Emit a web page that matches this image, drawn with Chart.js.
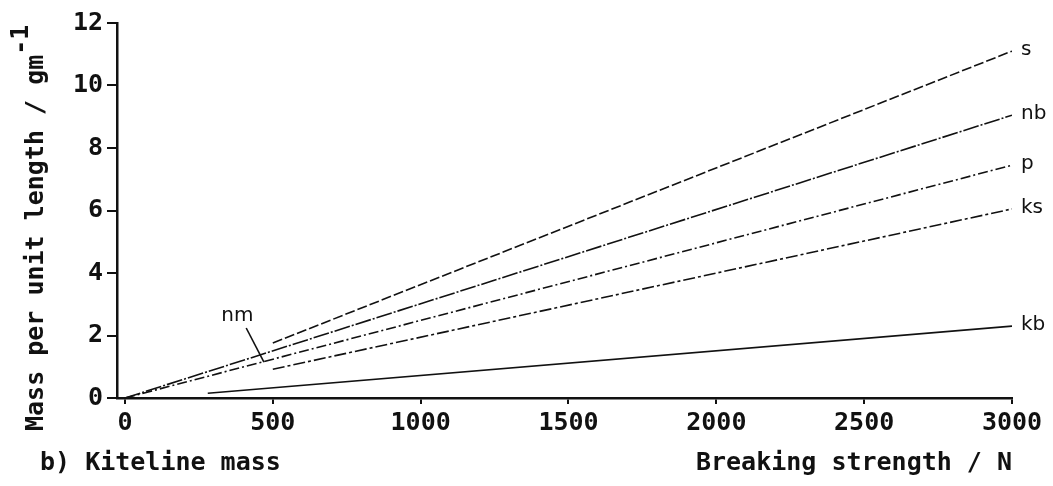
<!DOCTYPE html>
<html>
<head>
<meta charset="utf-8">
<script src="https://cdn.jsdelivr.net/npm/chart.js@4.4.1/dist/chart.umd.min.js"></script>
<style>
  html, body { margin: 0; padding: 0; background: #fff; }
</style>
</head>
<body>
<canvas id="chart" width="1053" height="486"></canvas>
<script>
// ===== Data =====
const lineNames  = ["s", "nb", "p", "ks", "kb"];
const startForce = [500, 0, 0, 500, 280];
const startMass  = [1.76, 0, 0, 0.92, 0.15];
const endForce   = [3000, 3000, 3000, 3000, 3000];
const endMass    = [11.1, 9.05, 7.45, 6.05, 2.3];

const xTicks = [0, 500, 1000, 1500, 2000, 2500, 3000];
const yTicks = [0, 2, 4, 6, 8, 10, 12];

// ===== Styles =====
const ink = "#111";
const plotFont = "'DejaVu Sans Mono', monospace";
const thinFont = "'DejaVu Sans', sans-serif";
const dashes = [[10, 3], [16, 2, 2, 2], [10, 3, 2, 3], [12, 3, 3, 3], []];

// nm marker, in data units
const nmText = { x: 380, y: 2.62 };
const nmFrom = { x: 410, y: 2.24 };
const nmTo   = { x: 470, y: 1.15 };

// ===== Extra text: series labels, nm note, y title, caption =====
const annotations = {
  id: "annotations",
  afterDraw(chart) {
    const ctx = chart.ctx;
    const xs = chart.scales.x, ys = chart.scales.y;
    ctx.save();
    ctx.fillStyle = ink;
    ctx.strokeStyle = ink;

    // labels at the right end of each line
    ctx.font = "20px " + thinFont;
    ctx.textAlign = "left";
    ctx.textBaseline = "middle";
    chart.data.datasets.forEach((ds, i) => {
      const pts = chart.getDatasetMeta(i).data;
      const last = pts[pts.length - 1];
      ctx.fillText(ds.label, last.x + 9, last.y - 1);
    });

    // nm note with pointer
    ctx.textAlign = "center";
    ctx.fillText("nm", xs.getPixelForValue(nmText.x), ys.getPixelForValue(nmText.y));
    ctx.lineWidth = 1.6;
    ctx.beginPath();
    ctx.moveTo(xs.getPixelForValue(nmFrom.x), ys.getPixelForValue(nmFrom.y));
    ctx.lineTo(xs.getPixelForValue(nmTo.x), ys.getPixelForValue(nmTo.y));
    ctx.stroke();

    // y axis title with superscript
    ctx.font = "bold 25px " + plotFont;
    ctx.translate(43, 431);
    ctx.rotate(-Math.PI / 2);
    ctx.textAlign = "left";
    ctx.textBaseline = "alphabetic";
    const main = "Mass per unit length / gm";
    ctx.fillText(main, 0, 0);
    ctx.fillText("-1", ctx.measureText(main).width, -15);
    ctx.setTransform(1, 0, 0, 1, 0, 0);

    // caption bottom left
    ctx.textBaseline = "middle";
    ctx.fillText("b) Kiteline mass", 40, 463);
    ctx.restore();
  }
};

// ===== Chart =====
new Chart(document.getElementById("chart"), {
  type: "line",
  data: {
    datasets: lineNames.map((name, i) => ({
      label: name,
      data: [
        { x: startForce[i], y: startMass[i] },
        { x: endForce[i], y: endMass[i] }
      ],
      borderColor: ink,
      borderWidth: 1.6,
      borderDash: dashes[i],
      pointRadius: 0,
      fill: false,
      tension: 0
    }))
  },
  options: {
    responsive: false,
    animation: false,
    layout: { padding: { top: 23, right: 41, left: 0, bottom: 0 } },
    plugins: { legend: { display: false }, tooltip: { enabled: false } },
    scales: {
      x: {
        type: "linear",
        min: -27,
        max: 3000,
        afterBuildTicks: s => { s.ticks = xTicks.map(v => ({ value: v })); },
        afterFit: s => { s.height = 88; },
        grid: { drawOnChartArea: false, drawTicks: true, tickLength: 6, color: ink, lineWidth: 2 },
        border: { color: ink, width: 2.5 },
        ticks: {
          color: ink,
          padding: 4,
          maxRotation: 0,
          callback: v => String(v),
          font: { family: plotFont, size: 25, weight: "bold" }
        },
        title: {
          display: true,
          text: "Breaking strength / N",
          align: "end",
          color: ink,
          padding: { top: 0, bottom: 8 },
          font: { family: plotFont, size: 25, weight: "bold" }
        }
      },
      y: {
        min: 0,
        max: 12,
        afterBuildTicks: s => { s.ticks = yTicks.map(v => ({ value: v })); },
        afterFit: s => { s.width = 117; },
        grid: { drawOnChartArea: false, drawTicks: true, tickLength: 10, color: ink, lineWidth: 2 },
        border: { color: ink, width: 2.5 },
        ticks: {
          color: ink,
          padding: 4,
          callback: v => String(v),
          font: { family: plotFont, size: 25, weight: "bold" }
        }
      }
    }
  },
  plugins: [annotations]
});
</script>
</body>
</html>
